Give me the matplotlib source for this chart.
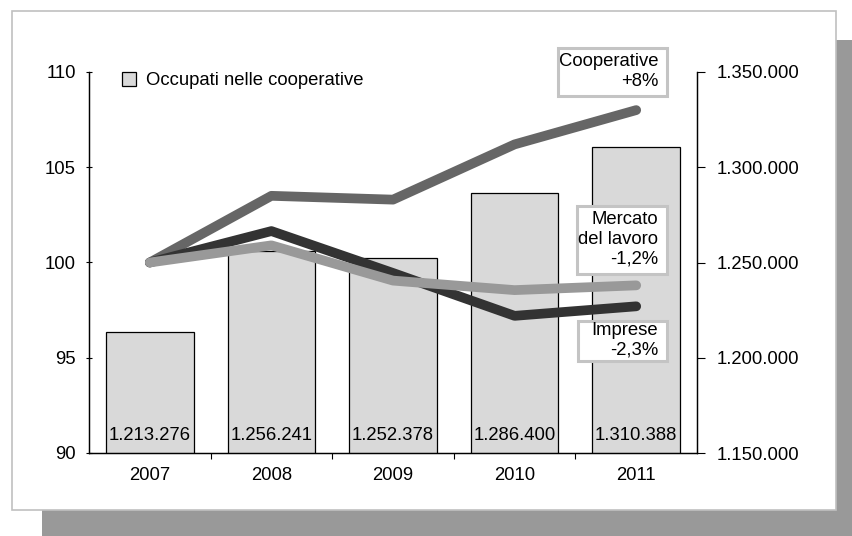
import matplotlib
matplotlib.use("Agg")
import matplotlib.pyplot as plt
from matplotlib.patches import Rectangle
from matplotlib.ticker import FixedLocator, FuncFormatter
import numpy as np

plt.rcParams['font.family'] = ['Liberation Sans', 'DejaVu Sans']

years = ['2007', '2008', '2009', '2010', '2011']
occupati = [1213276, 1256241, 1252378, 1286400, 1310388]
cooperative_idx = [100.0, 103.5, 103.3, 106.2, 108.0]
imprese_idx = [100.0, 101.65, 99.45, 97.2, 97.7]
mercato_idx = [100.0, 100.9, 99.05, 98.55, 98.8]
left_ticks = [90, 95, 100, 105, 110]
right_ticks = [1150000, 1200000, 1250000, 1300000, 1350000]
legend_label = 'Occupati nelle cooperative'
box_texts = ['Cooperative\n+8%', 'Mercato\ndel lavoro\n-1,2%', 'Imprese\n-2,3%']

W, H = 852, 536
FS = 13.3

def it_fmt(v):
    return f"{int(round(v)):,}".replace(',', '.')

fig = plt.figure(figsize=(W / 100, H / 100), dpi=100)
fig.patch.set_facecolor('white')

def fx(px):
    return px / W

def fy(py):
    return 1 - py / H

# shadow and panel
fig.patches.append(Rectangle((fx(42), fy(536)), fx(852) - fx(42), fy(40) - fy(536),
                             transform=fig.transFigure, facecolor='#999999',
                             edgecolor='none', zorder=-10))
fig.patches.append(Rectangle((fx(11.5), fy(509.5)), fx(836) - fx(11.5), fy(11) - fy(509.5),
                             transform=fig.transFigure, facecolor='white',
                             edgecolor='#c0c0c0', linewidth=1.2, zorder=-9))

ax = fig.add_axes([fx(89), fy(453), fx(697) - fx(89), fy(72) - fy(453)])
ax2 = ax.twinx()
ax.set_zorder(2)
ax.patch.set_visible(False)

x = np.arange(len(years))
bars = ax2.bar(x, occupati, width=0.72, color='#d9d9d9', edgecolor='black', linewidth=0.9,
               bottom=0)
ax2.set_ylim(right_ticks[0], right_ticks[-1])
for xi, v in zip(x, occupati):
    ax2.annotate(it_fmt(v), (xi, right_ticks[0]), xytext=(0, 18), textcoords='offset pixels',
                 ha='center', va='center', fontsize=FS, color='black')

lw = 7
ax.plot(x, cooperative_idx, color='#666666', lw=lw, solid_capstyle='round', solid_joinstyle='round', zorder=3)
ax.plot(x, imprese_idx, color='#333333', lw=lw, solid_capstyle='round', solid_joinstyle='round', zorder=4)
ax.plot(x, mercato_idx, color='#999999', lw=lw, solid_capstyle='round', solid_joinstyle='round', zorder=5)

ax.set_xlim(-0.5, len(years) - 0.5)
ax.set_ylim(left_ticks[0], left_ticks[-1])
ax.set_yticks(left_ticks)
ax.set_yticklabels([str(t) for t in left_ticks], fontsize=FS)
ax.tick_params(axis='y', direction='inout', length=5, width=0.8, pad=7)

ax2.set_yticks(right_ticks)
ax2.yaxis.set_major_formatter(FuncFormatter(lambda v, p: it_fmt(v)))
ax2.tick_params(axis='y', direction='out', length=6, width=0.8, pad=8, labelsize=FS)

ax.xaxis.set_major_locator(FixedLocator(np.arange(0.5, len(years) - 1, 1.0)))
ax.xaxis.set_major_formatter(FuncFormatter(lambda v, p: ''))
ax.xaxis.set_minor_locator(FixedLocator(x))
ax.set_xticklabels(years, minor=True, fontsize=FS)
ax.tick_params(axis='x', which='major', direction='out', length=4.5, width=0.8)
ax.tick_params(axis='x', which='minor', length=0, pad=10)

for a in (ax, ax2):
    a.spines['top'].set_visible(False)
    for s in ('left', 'right', 'bottom'):
        a.spines[s].set_linewidth(0.9)
        a.spines[s].set_color('black')

leg = ax.legend([bars], [legend_label], loc='center left',
                bbox_to_anchor=((122 - 89) / 608, 1 - (80.5 - 72) / 381),
                frameon=False, fontsize=FS, borderpad=0, borderaxespad=0,
                handlelength=0.78, handleheight=0.78, handletextpad=0.5)

# annotation boxes
boxes = [(556, 46, 668, 97), (575, 204, 668, 275), (576, 319, 668, 362)]
for (x0, y0, x1, y1), txt in zip(boxes, box_texts):
    fig.patches.append(Rectangle((fx(x0 + 1.5), fy(y1 - 1.5)), fx(x1 - x0 - 3), fy(y0) - fy(y1 - 3) - 0,
                                 transform=fig.transFigure, facecolor='white',
                                 edgecolor='#c4c4c4', linewidth=2.2, zorder=10))
    fig.text(fx(658), fy((y0 + y1) / 2), txt, ha='right', va='center', fontsize=FS,
             linespacing=1.2, multialignment='right', zorder=11)

fig.savefig('out.png', dpi=100)
